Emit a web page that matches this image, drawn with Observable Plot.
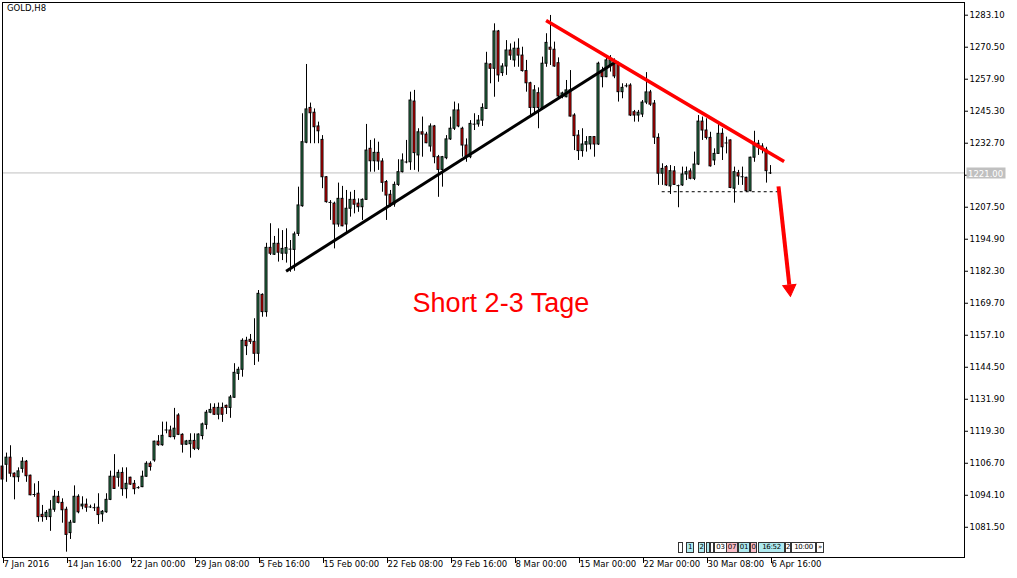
<!DOCTYPE html>
<html>
<head>
<meta charset="utf-8">
<script src="https://cdn.jsdelivr.net/npm/d3@7"></script>
<script src="https://cdn.jsdelivr.net/npm/@observablehq/plot@0.6"></script>
<style>
  html, body { margin: 0; padding: 0; background: #fff; }
  #wrap { position: relative; width: 1017px; height: 578px; overflow: hidden; }
  #title { position: absolute; left: 7px; top: 3px; font: 8.5px "DejaVu Sans"; color: #000; }
  .wb { position: absolute; top: 542px; height: 9px; border: 1px solid #333; box-sizing: content-box;
        font: 7px "DejaVu Sans"; line-height: 9px; text-align: center; color: #000; overflow: hidden; letter-spacing: -0.3px; }
</style>
</head>
<body>
<div id="wrap"></div>
<script>
// ---- data: GOLD H8 bars (index 0 = first visible bar) ----
const open = [1105.4,1106.1,1108.9,1102.6,1101.2,1104.5,1107.3,1101.8,1094.5,1094.7,1086.4,1085.5,1085.5,1088.4,1093.5,1091.1,1088.4,1079.2,1083.3,1093.5,
1089.7,1090.4,1089.6,1089.3,1089.2,1086.6,1087.4,1092.3,1101.4,1101.0,1102.9,1096.5,1101.0,1098.6,1097.0,1097.3,1101.4,1106.5,1107.8,1115.2,
1113.8,1119.7,1119.6,1117.0,1125.5,1117.9,1114.0,1114.2,1115.5,1112.4,1117.4,1121.8,1126.6,1128.5,1125.8,1128.5,1129.3,1128.5,1132.5,1141.9,
1143.5,1154.9,1155.3,1154.5,1149.8,1173.0,1166.2,1191.5,1188.8,1193.1,1189.2,1189.2,1191.1,1190.7,1197.0,1207.9,1232.9,1246.6,1244.7,1239.3,
1234.0,1219.3,1209.5,1208.9,1200.7,1210.8,1200.7,1206.9,1210.4,1208.9,1207.5,1210.4,1230.5,1225.6,1228.9,1225.5,1217.4,1212.4,1208.6,1216.3,
1221.3,1225.2,1225.2,1249.1,1227.9,1237.0,1236.1,1231.4,1239.3,1227.2,1222.2,1226.8,1234.2,1238.4,1245.6,1238.4,1231.8,1227.2,1240.3,1240.1,
1241.6,1246.2,1263.7,1262.0,1276.7,1260.3,1262.9,1269.2,1265.3,1269.9,1267.2,1261.1,1256.3,1246.6,1252.4,1246.6,1264.0,1270.3,1269.5,1264.2,
1251.1,1250.8,1253.5,1243.6,1235.7,1229.6,1232.1,1232.2,1235.1,1232.2,1260.7,1258.7,1263.3,1264.2,1264.0,1252.8,1255.4,1255.4,1244.9,1243.6,
1244.0,1248.7,1252.7,1248.3,1234.8,1220.7,1223.3,1215.7,1221.6,1216.1,1216.1,1220.4,1221.6,1218.7,1224.3,1241.2,1237.7,1234.8,1225.9,1228.5,
1236.4,1232.9,1233.8,1214.8,1220.9,1219.6,1219.1,1213.8,1227.0,1232.5,1231.4,1230.1,1221.3];
const high = [1106.2,1110.7,1113.6,1102.9,1104.9,1108.9,1107.8,1102.0,1098.6,1099.5,1090.1,1088.1,1092.0,1096.0,1095.6,1092.7,1089.4,1084.2,1097.8,1094.3,
1093.5,1092.6,1090.2,1090.7,1094.7,1088.1,1094.7,1103.6,1110.1,1104.0,1104.9,1104.9,1101.2,1099.9,1097.5,1103.6,1107.3,1107.3,1115.4,1117.6,
1122.9,1122.9,1121.3,1128.3,1126.2,1118.3,1115.7,1118.3,1118.3,1118.3,1122.5,1127.5,1130.1,1130.1,1130.4,1130.4,1129.6,1133.4,1145.9,1144.5,
1155.7,1156.3,1157.4,1163.6,1174.7,1173.4,1193.3,1201.0,1196.0,1199.0,1198.3,1199.0,1194.4,1197.7,1215.4,1244.3,1263.7,1248.5,1246.2,1241.0,
1235.7,1219.6,1210.1,1209.5,1217.0,1215.7,1214.1,1213.4,1214.1,1210.8,1210.8,1240.1,1233.8,1234.4,1233.1,1226.6,1218.0,1214.1,1217.4,1226.2,
1228.5,1233.8,1252.8,1253.5,1238.4,1243.0,1237.0,1240.3,1239.7,1227.9,1227.5,1235.7,1243.0,1248.9,1248.2,1239.0,1234.4,1241.6,1244.3,1243.6,
1248.2,1268.5,1264.0,1279.7,1277.1,1264.0,1273.1,1271.8,1272.5,1273.8,1270.5,1265.3,1256.7,1255.4,1254.5,1266.6,1275.8,1283.0,1272.5,1266.3,
1252.8,1257.4,1261.3,1244.3,1237.7,1238.4,1235.3,1235.3,1235.3,1264.6,1262.6,1267.2,1267.2,1265.9,1264.6,1256.1,1256.1,1256.1,1245.6,1245.6,
1249.5,1260.5,1253.5,1249.5,1236.4,1224.6,1223.9,1223.9,1223.5,1216.2,1223.3,1223.3,1222.6,1229.2,1243.6,1243.0,1242.3,1237.0,1230.5,1240.6,
1238.4,1235.1,1234.0,1223.3,1222.0,1223.3,1219.3,1227.2,1237.4,1233.8,1232.5,1231.1,1223.9];
const low = [1099.5,1099.2,1101.2,1092.3,1099.2,1102.8,1099.2,1093.9,1093.3,1083.5,1083.5,1084.2,1079.9,1087.4,1090.7,1083.1,1071.7,1076.7,1083.1,1086.8,
1088.4,1087.4,1088.9,1087.7,1082.6,1083.5,1087.0,1092.0,1096.5,1097.3,1093.7,1092.7,1098.0,1094.3,1096.5,1097.1,1101.2,1103.6,1107.1,1113.4,
1113.4,1118.3,1116.7,1115.9,1117.6,1110.7,1113.7,1108.7,1111.7,1111.7,1115.9,1119.9,1126.2,1125.5,1123.8,1122.8,1125.9,1124.4,1132.3,1139.3,
1140.6,1149.1,1153.5,1145.2,1146.5,1164.2,1164.2,1188.5,1188.5,1185.9,1186.5,1185.5,1181.9,1182.3,1196.0,1207.5,1232.5,1232.5,1232.5,1232.5,
1214.8,1209.1,1202.3,1191.1,1199.6,1199.8,1197.0,1203.6,1204.9,1205.5,1202.3,1210.3,1221.3,1221.3,1222.0,1213.4,1202.3,1207.5,1207.5,1215.7,
1221.0,1224.6,1222.0,1222.0,1221.3,1227.2,1232.5,1229.2,1224.6,1211.4,1215.4,1226.2,1233.8,1237.7,1238.8,1227.2,1225.2,1226.6,1237.7,1239.0,
1239.3,1246.0,1256.1,1250.8,1256.7,1259.0,1259.4,1265.3,1262.6,1262.6,1260.7,1252.8,1243.0,1243.6,1238.4,1245.6,1262.6,1263.3,1262.6,1250.2,
1250.2,1250.6,1243.0,1229.8,1225.9,1227.2,1229.2,1230.1,1227.2,1231.8,1254.5,1258.5,1260.7,1258.1,1248.9,1250.2,1254.5,1243.2,1241.0,1241.0,
1242.8,1247.9,1247.2,1232.2,1216.1,1216.1,1215.7,1212.5,1216.1,1207.3,1215.7,1218.0,1218.3,1218.0,1223.9,1233.8,1234.0,1223.3,1223.9,1228.3,
1225.9,1228.5,1214.8,1209.1,1216.1,1216.1,1213.4,1213.6,1225.2,1227.9,1228.5,1217.0,1220.4];
const close = [1100.3,1108.9,1102.6,1101.2,1103.5,1107.3,1101.6,1094.1,1094.4,1085.5,1085.5,1087.2,1088.4,1093.5,1091.1,1088.2,1078.5,1083.3,1093.5,1087.4,
1090.4,1089.2,1089.5,1089.2,1086.3,1087.6,1092.3,1101.4,1096.6,1102.9,1096.5,1098.6,1098.3,1096.5,1097.1,1101.4,1106.5,1105.2,1115.2,1113.8,
1117.5,1119.8,1117.0,1120.3,1117.9,1114.0,1115.3,1115.5,1112.4,1118.0,1122.0,1126.6,1127.7,1125.8,1128.5,1125.8,1128.5,1132.6,1142.3,1143.5,
1154.9,1152.8,1154.5,1149.8,1173.4,1166.2,1191.5,1189.2,1193.1,1189.6,1191.1,1191.4,1191.0,1196.8,1208.2,1233.1,1246.0,1244.5,1239.0,1237.4,
1219.3,1209.5,1209.4,1200.7,1210.8,1200.0,1206.9,1210.4,1208.5,1207.5,1210.4,1229.8,1225.6,1228.9,1225.5,1217.1,1212.1,1208.6,1216.3,1221.3,
1225.9,1225.3,1249.5,1228.8,1237.0,1236.1,1232.7,1239.3,1227.2,1222.2,1227.2,1234.2,1238.4,1245.6,1239.3,1231.8,1227.5,1240.3,1240.2,1241.6,
1246.6,1264.0,1262.0,1276.7,1259.4,1262.9,1269.2,1267.2,1269.9,1267.2,1261.1,1256.3,1246.6,1253.5,1246.6,1264.0,1272.2,1269.5,1262.9,1251.1,
1252.3,1253.5,1243.2,1235.5,1229.6,1232.2,1233.1,1235.1,1232.2,1264.0,1258.7,1265.3,1265.3,1259.0,1252.8,1254.5,1255.3,1243.6,1243.6,1244.7,
1248.7,1252.7,1247.9,1234.9,1220.7,1222.6,1216.1,1221.7,1216.3,1216.0,1220.4,1221.3,1218.7,1224.3,1241.2,1237.7,1234.8,1223.6,1228.5,1236.4,
1231.1,1232.8,1215.1,1221.3,1219.6,1219.5,1213.8,1227.0,1232.5,1231.1,1230.2,1221.7,1221.0];

// x-axis labels (every 16 bars) and y-axis ticks
const xTickIndex = [0,16,32,48,64,80,96,112,128,144,160,176,192];
const xTickLabels = ["7 Jan 2016","14 Jan 16:00","22 Jan 00:00","29 Jan 08:00","5 Feb 16:00","15 Feb 00:00","22 Feb 08:00","29 Feb 16:00","8 Mar 00:00","15 Mar 00:00","22 Mar 00:00","30 Mar 08:00","6 Apr 16:00"];
const yTicks = [1283.1,1270.5,1257.9,1245.3,1232.7,1220.1,1207.5,1194.9,1182.3,1169.7,1157.1,1144.5,1131.9,1119.3,1106.7,1094.1,1081.5];

// annotations (bar index, price)
const upTrend = [{x1: 70.9, y1: 1182.3, x2: 153.2, y2: 1264.6}];
const downTrend = [{x1: 135.9, y1: 1281.0, x2: 195.4, y2: 1225.5}];
const supportLine = [{x1: 164.8, x2: 194.0, y: 1213.6}];
const arrowShaft = [{x1: 194.0, y1: 1215.7, x2: 196.7, y2: 1177.0}];
const arrowHead = [{x: 196.8, y: 1175.4}];
const note = [{x: 124.6, y: 1169.6, text: "Short 2-3 Tage"}];

const bars = open.map((o, i) => ({i, open: o, high: high[i], low: low[i], close: close[i]}));
const bodies = bars.filter(d => Math.abs(d.open - d.close) >= 0.4);
const dojis = bars.filter(d => Math.abs(d.open - d.close) < 0.4);
const lastPrice = close[close.length - 1];

const chart = Plot.plot({
  width: 1017, height: 578,
  marginLeft: 2, marginRight: 53, marginTop: 2, marginBottom: 21,
  style: {fontFamily: "DejaVu Sans", fontSize: "8.5px", color: "#000", background: "#fff", overflow: "visible"},
  x: {domain: [0, 240.5], axis: null},
  y: {domain: [1069.6, 1288.1], axis: null},
  marks: [
    Plot.ruleY([lastPrice], {stroke: "#c0c0c0", strokeWidth: 1}),
    Plot.ruleX(bars, {x: "i", y1: "low", y2: "high", stroke: "#000", strokeWidth: 1}),
    Plot.rect(bodies, {x1: d => d.i - 0.25, x2: d => d.i + 0.25, y1: "open", y2: "close",
      fill: d => d.close > d.open ? "#2e8b57" : "#ff0000", stroke: "#000", strokeWidth: 1}),
    Plot.ruleY(dojis, {y: "close", x1: d => d.i - 0.375, x2: d => d.i + 0.375, stroke: "#000", strokeWidth: 1}),
    Plot.link(upTrend, {x1: "x1", y1: "y1", x2: "x2", y2: "y2", stroke: "#000", strokeWidth: 3}),
    Plot.link(downTrend, {x1: "x1", y1: "y1", x2: "x2", y2: "y2", stroke: "#ff0000", strokeWidth: 3.5}),
    Plot.link(supportLine, {x1: "x1", x2: "x2", y1: "y", y2: "y", stroke: "#000", strokeWidth: 1, strokeDasharray: "3,3"}),
    Plot.link(arrowShaft, {x1: "x1", y1: "y1", x2: "x2", y2: "y2", stroke: "#ff0000", strokeWidth: 4}),
    Plot.dot(arrowHead, {x: "x", y: "y", symbol: "triangle", r: 4.9, rotate: 174, fill: "#ff0000", stroke: "#ff0000", strokeWidth: 1}),
    Plot.text(note, {x: "x", y: "y", text: "text", fill: "#ff0000", fontSize: 27, fontFamily: "Liberation Sans", textAnchor: "middle"}),
    Plot.axisY(yTicks, {anchor: "right", tickSize: 3, tickPadding: 2, tickFormat: d => d.toFixed(2), fontSize: 8.5}),
    Plot.axisX(xTickIndex, {anchor: "bottom", tickSize: 6, tickPadding: -3, textAnchor: "start", dx: 1,
      tickFormat: (d) => xTickLabels[xTickIndex.indexOf(d)], fontSize: 8.5}),
    Plot.frame({stroke: "#000", strokeWidth: 1})
  ]
});

const wrap = document.getElementById("wrap");
wrap.appendChild(chart);

// current price label on the right axis
const yPix = Math.round(chart.scale("y").apply(lastPrice) + 0.5);
const svg = d3.select(chart);
const g = svg.append("g");
g.append("rect").attr("x", 966.5).attr("y", yPix - 5.5).attr("width", 39).attr("height", 11).attr("fill", "#c0c0c0");
g.append("text").attr("x", 968).attr("y", yPix + 3.5).attr("fill", "#fff").attr("text-anchor", "start")
  .attr("font-family", "DejaVu Sans").attr("font-size", 8.5).text(lastPrice.toFixed(2));

// title
const title = document.createElement("div");
title.id = "title"; title.textContent = "GOLD,H8";
wrap.appendChild(title);

// MT4 bar-info strip (left, width, text, background)
const widgetItems = [
  [678, 3, "", "#fff"], [686, 6, "1", "#aeeaf0"], [698, 5, "2", "#aeeaf0"], [706, 2, "", "#aeeaf0"], [710, 2, "", "#fff"],
  [714, 11, "03", "#fff"], [726, 10, "07", "#f8bcc6"], [738, 10, "01", "#aeeaf0"], [750, 5, "0", "#f8bcc6"],
  [758, 25, "16:52", "#aeeaf0"], [785, 4, "2", "#fff"], [791, 23, "10:00", "#fff"], [816, 6, "»", "#fff"]
];
for (const [x, wdt, t, bg] of widgetItems) {
  const s = document.createElement("div");
  s.className = "wb";
  s.style.left = x + "px"; s.style.width = wdt + "px"; s.style.background = bg;
  s.textContent = t;
  wrap.appendChild(s);
}
</script>
</body>
</html>
